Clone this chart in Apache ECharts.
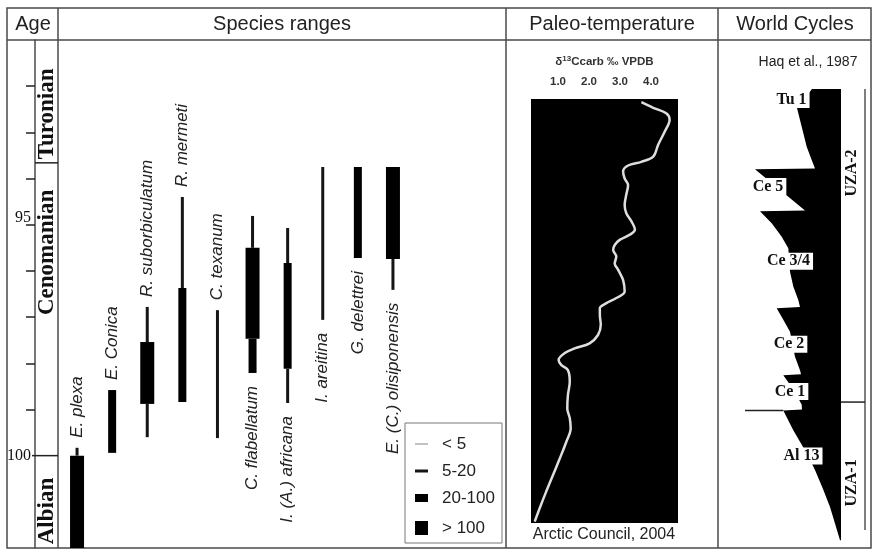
<!DOCTYPE html>
<html><head><meta charset="utf-8">
<script src="https://cdn.jsdelivr.net/npm/echarts@6/dist/echarts.min.js"></script>
<style>html,body{margin:0;padding:0;background:#fff}#c{width:874px;height:550px}</style>
</head><body><div id="c"></div>
<script>
// ---------------- data ----------------
const species = ['E. plexa','E. Conica','R. suborbiculatum','R. mermeti','C. texanum','C. flabellatum','I. (A.) africana','I. areitina','G. delettrei','E. (C.) olisiponensis'];
const abundanceClasses = ['< 5','5-20','20-100','> 100'];
// range segments (species index, top age Ma, base age Ma, abundance class)
const segSpecies = [0,0,1,2,2,2,3,3,4,5,5,5,6,6,6,7,8,9,9];
const segTop  = [99.83,100.0,98.58,96.78,97.54,98.88,94.40,96.37,96.85,94.81,95.50,97.47,95.07,95.83,98.12,93.75,93.75,93.75,95.74];
const segBase = [100.0,102.0,99.94,97.54,98.88,99.60,96.37,98.84,99.62,95.50,97.47,98.21,95.83,98.12,98.86,97.06,95.72,95.74,96.41];
const segClass = ['5-20','> 100','20-100','5-20','> 100','5-20','5-20','20-100','5-20','5-20','> 100','20-100','5-20','20-100','5-20','5-20','20-100','> 100','5-20'];

const stageNames = ['Turonian','Cenomanian','Albian'];
const stageTop  = [91.0, 93.66, 100.0];
const stageBase = [93.66, 100.0, 102.0];
const stageLabelAge = [92.6, 95.6, 101.2];
const ageTicks  = [92,93,94,95,96,97,98,99];
const ageLabels = [95,100];

const isoTicks = [1,2,3,4];
const d13C = [3.69,4.07,4.49,4.60,4.44,4.23,4.07,3.69,3.26,3.10,3.15,3.26,3.20,3.15,3.20,3.37,3.48,3.31,2.99,2.83,2.78,2.88,2.83,2.94,3.10,3.15,2.88,2.56,2.35,2.35,2.38,2.29,2.02,1.54,1.22,1.02,1.11,1.32,1.38,1.32,1.30,1.38,1.41,1.27,1.06,0.84,0.62,0.41,0.25];
const d13CAge = [92.35,92.47,92.59,92.73,92.99,93.27,93.53,93.64,93.72,93.85,94.00,94.14,94.36,94.57,94.75,94.93,95.11,95.22,95.33,95.44,95.55,95.69,95.84,95.98,96.20,96.45,96.59,96.70,96.81,96.95,97.17,97.39,97.57,97.68,97.78,97.93,98.04,98.15,98.40,98.69,98.98,99.19,99.41,99.70,100.06,100.42,100.78,101.14,101.43];

const seaLevel = [67,52,56.7,61.7,66.7,70,10,60,15,26.7,36.7,43.3,45,48.3,53.3,55,31.7,38.3,45,50,55,56,38.3,41.7,50,56.7,57,38.3,48.3,61.7,70,78.3,85,90,95];
const seaLevelAge = [92.06,92.47,92.88,93.31,93.60,93.78,93.80,94.69,94.71,94.97,95.26,95.51,96.02,96.34,96.63,96.78,96.81,97.06,97.32,97.86,98.15,98.24,98.26,98.36,98.62,98.90,99.00,99.02,99.45,99.95,100.31,100.74,101.11,101.47,101.83];
const cycleNames = ['Tu 1','Ce 5','Ce 3/4','Ce 2','Ce 1','Al 13'];
const cycleLabelLevel = [46.5,23,43.5,44,45,56.5];
const cycleLabelAge = [92.29,94.17,95.79,97.59,98.61,100.01];
const boundaryAge = 99.02, boundaryLevel = 38.3;
const zoneNames = ['UZA-2','UZA-1'];
const zoneTop  = [92.06, 98.84];
const zoneBase = [98.84, 101.61];
const zoneLabelAge = [93.88, 100.59];

// ---------------- styles ----------------
const SANS = "'Liberation Sans', Arial, sans-serif";
const SERIF = "'Liberation Serif', 'Times New Roman', serif";
const widthOf = {'< 5':1.2,'5-20':3,'20-100':8,'> 100':14};
const colorOf = {'< 5':'#9a9a9a','5-20':'#151515','20-100':'#000','> 100':'#000'};
const LINE = '#4a4a4a';

const spTop = species.map((_, i) => Math.min(...segTop.filter((_, k) => segSpecies[k] === i)));
const spBase = species.map((_, i) => Math.max(...segBase.filter((_, k) => segSpecies[k] === i)));

const chart = echarts.init(document.getElementById('c'), null, {renderer:'canvas', width:874, height:550});

const hidden = (gi, min, max, extra) => Object.assign({gridIndex:gi, type:'value', min, max, show:false, splitLine:{show:false}}, extra||{});

const option = {
  animation:false,
  backgroundColor:'#fff',
  grid:[
    {left:35, top:40, width:23, height:508},
    {left:59.5, top:40, width:351, height:508},
    {left:531, top:99, width:147, height:424, show:true, backgroundColor:'#000', borderWidth:0},
    {left:745, top:40, width:96, height:508},
    {left:841, top:40, width:24, height:508}
  ],
  xAxis:[
    hidden(0,0,1),
    {gridIndex:1, type:'category', data:species, show:false},
    {gridIndex:2, type:'value', position:'top', min:0.13, max:4.87,
      axisLine:{show:false}, axisTick:{show:false}, splitLine:{show:false},
      axisLabel:{customValues:isoTicks, formatter:v=>Number(v).toFixed(1), margin:11, fontSize:11.5, fontWeight:'bold', color:'#333', fontFamily:SANS},
      name:'{a|δ}{s|13}{a|Ccarb ‰ VPDB}', nameLocation:'middle', nameGap:31,
      nameTextStyle:{rich:{a:{fontSize:11.5, fontFamily:SANS, color:'#333', fontWeight:'bold'}, s:{fontSize:8, fontFamily:SANS, color:'#333', fontWeight:'bold', verticalAlign:'top', padding:[0,0,5,0]}}}},
    hidden(3,0,96),
    hidden(4,0,1)
  ],
  yAxis:[
    {gridIndex:0, type:'value', inverse:true, min:91, max:102, position:'left',
      axisLine:{show:true, onZero:false, lineStyle:{color:LINE, width:1.5}},
      axisTick:{show:true, customValues:ageTicks, length:9, inside:false, lineStyle:{color:'#222', width:1.5}},
      axisLabel:{customValues:ageLabels, margin:4, fontFamily:SERIF, fontSize:16, color:'#111',
        formatter:v => v===95 ? '{up|95}' : String(v),
        rich:{up:{fontFamily:SERIF, fontSize:16, color:'#111', padding:[0,0,14,0]}}},
      splitLine:{show:false}},
    hidden(1,91,102,{inverse:true}),
    hidden(2,92.28,101.46,{inverse:true}),
    hidden(3,91,102,{inverse:true}),
    hidden(4,91,102,{inverse:true})
  ],
  series:[
    // stages
    {type:'custom', xAxisIndex:0, yAxisIndex:0, silent:true, clip:false,
      data: stageNames.map((n,i)=>[0, stageTop[i], stageBase[i], stageLabelAge[i]]),
      renderItem:(params, api)=>{
        const cs = params.coordSys, i = params.dataIndex;
        const yTop = api.coord([0, api.value(1)])[1];
        const yl = api.coord([0, api.value(3)])[1];
        const ch = [];
        if (i > 0) ch.push({type:'line', shape:{x1:cs.x - (i===2?3:0), y1:yTop, x2:cs.x+cs.width, y2:yTop}, style:{stroke:'#222', lineWidth:1.5}});
        ch.push({type:'text', x:cs.x+cs.width/2+1, y:yl, rotation:Math.PI/2,
          style:{text:stageNames[i], font:`bold 23px ${SERIF}`, fill:'#111', align:'center', verticalAlign:'middle'}});
        return {type:'group', children:ch};
      }},
    // species ranges
    {type:'custom', xAxisIndex:1, yAxisIndex:1, silent:true, clip:false,
      data: segSpecies.map((s,k)=>[s, segTop[k], segBase[k], abundanceClasses.indexOf(segClass[k])]),
      renderItem:(params, api)=>{
        const p1 = api.coord([api.value(0), api.value(1)]);
        const p2 = api.coord([api.value(0), api.value(2)]);
        const cls = abundanceClasses[api.value(3)];
        const w = widthOf[cls];
        return {type:'rect', shape:{x:p1[0]-w/2, y:p1[1], width:w, height:p2[1]-p1[1]}, style:{fill:colorOf[cls]}};
      }},
    // species labels
    {type:'custom', xAxisIndex:1, yAxisIndex:1, silent:true, clip:false,
      data: species.map((n,i)=>[i, spTop[i], spBase[i]]),
      renderItem:(params, api)=>{
        const i = params.dataIndex;
        const below = i >= 5;
        const p = api.coord([i, below ? api.value(2) : api.value(1)]);
        return {type:'text', x:p[0], y: below ? p[1]+13 : p[1]-10, rotation:Math.PI/2,
          style:{text:species[i], font:`italic 17px ${SANS}`, fill:'#222', align: below ? 'right' : 'left', verticalAlign:'middle'}};
      }},
    // isotope curve
    {type:'line', xAxisIndex:2, yAxisIndex:2, silent:true, showSymbol:false, smooth:0.35,
      data: d13C.map((v,i)=>[v, d13CAge[i]]),
      lineStyle:{color:'#dedede', width:2.5}},
    // sea-level sawtooth
    {type:'custom', xAxisIndex:3, yAxisIndex:3, silent:true, clip:false,
      data:[[0, seaLevelAge[0]]],
      renderItem:(params, api)=>{
        const cs = params.coordSys;
        const pts = seaLevel.map((v,i)=>api.coord([v, seaLevelAge[i]]));
        const right = cs.x + cs.width;
        pts.push([right, pts[pts.length-1][1]]);
        pts.push([right, pts[0][1]]);
        const b1 = api.coord([0, boundaryAge]), b2 = api.coord([boundaryLevel, boundaryAge]);
        return {type:'group', children:[
          {type:'polygon', shape:{points:pts}, style:{fill:'#000'}},
          {type:'line', shape:{x1:b1[0], y1:b1[1], x2:b2[0], y2:b2[1]}, style:{stroke:'#222', lineWidth:1.5}}
        ]};
      }},
    // cycle labels
    {type:'custom', xAxisIndex:3, yAxisIndex:3, silent:true, clip:false,
      data: cycleNames.map((n,i)=>[cycleLabelLevel[i], cycleLabelAge[i]]),
      renderItem:(params, api)=>{
        const p = api.coord([api.value(0), api.value(1)]);
        return {type:'text', x:p[0], y:p[1],
          style:{text:cycleNames[params.dataIndex], font:`bold 16px ${SERIF}`, fill:'#111', align:'center', verticalAlign:'middle', backgroundColor:'#fff', padding:[1,3,0,3]}};
      }},
    // zones
    {type:'custom', xAxisIndex:4, yAxisIndex:4, silent:true, clip:false,
      data: zoneNames.map((n,i)=>[0, zoneTop[i], zoneBase[i], zoneLabelAge[i]]),
      renderItem:(params, api)=>{
        const cs = params.coordSys, i = params.dataIndex;
        const yT = api.coord([0, api.value(1)])[1], yB = api.coord([0, api.value(2)])[1], yL = api.coord([0, api.value(3)])[1];
        const xr = cs.x + cs.width;
        const ch = [{type:'line', shape:{x1:xr, y1:yT, x2:xr, y2:yB}, style:{stroke:'#555', lineWidth:1.5}}];
        if (i > 0) ch.push({type:'line', shape:{x1:cs.x, y1:yT, x2:xr, y2:yT}, style:{stroke:'#222', lineWidth:1.5}});
        ch.push({type:'text', x:cs.x+11, y:yL, rotation:Math.PI/2,
          style:{text:zoneNames[i], font:`bold 16px ${SERIF}`, fill:'#111', align:'center', verticalAlign:'middle'}});
        return {type:'group', children:ch};
      }}
  ],
  graphic:[
    {type:'rect', shape:{x:7, y:8, width:864, height:540}, style:{fill:null, stroke:LINE, lineWidth:1.5}, silent:true},
    {type:'line', shape:{x1:7, y1:40, x2:871, y2:40}, style:{stroke:LINE, lineWidth:1.5}, silent:true},
    {type:'line', shape:{x1:58, y1:8, x2:58, y2:548}, style:{stroke:LINE, lineWidth:1.5}, silent:true},
    {type:'line', shape:{x1:506, y1:8, x2:506, y2:548}, style:{stroke:LINE, lineWidth:1.5}, silent:true},
    {type:'line', shape:{x1:718, y1:8, x2:718, y2:548}, style:{stroke:LINE, lineWidth:1.5}, silent:true},
    {type:'text', x:33, y:24, style:{text:'Age', font:`20px ${SANS}`, fill:'#222', align:'center', verticalAlign:'middle'}, silent:true},
    {type:'text', x:282, y:24, style:{text:'Species ranges', font:`20px ${SANS}`, fill:'#222', align:'center', verticalAlign:'middle'}, silent:true},
    {type:'text', x:612, y:24, style:{text:'Paleo-temperature', font:`20px ${SANS}`, fill:'#222', align:'center', verticalAlign:'middle'}, silent:true},
    {type:'text', x:795, y:24, style:{text:'World Cycles', font:`20px ${SANS}`, fill:'#222', align:'center', verticalAlign:'middle'}, silent:true},
    {type:'text', x:808, y:62, style:{text:'Haq et al., 1987', font:`14px ${SANS}`, fill:'#222', align:'center', verticalAlign:'middle'}, silent:true},
    {type:'text', x:604, y:535, style:{text:'Arctic Council, 2004', font:`16px ${SANS}`, fill:'#222', align:'center', verticalAlign:'middle'}, silent:true},
    {type:'group', x:405, y:423, silent:true, children:
      [{type:'rect', shape:{x:0, y:0, width:97, height:120}, style:{fill:'#fff', stroke:'#777', lineWidth:1}}]
      .concat(abundanceClasses.flatMap((c, i) => {
        const cy = [21, 48, 75, 105][i];
        const h = widthOf[c];
        return [
          {type:'rect', shape:{x:10, y:cy-h/2, width:13, height:h}, style:{fill:colorOf[c]}},
          {type:'text', x:37, y:cy, style:{text:c, font:`17px ${SANS}`, fill:'#222', align:'left', verticalAlign:'middle'}}
        ];
      }))}
  ]
};
chart.setOption(option);
</script></body></html>
